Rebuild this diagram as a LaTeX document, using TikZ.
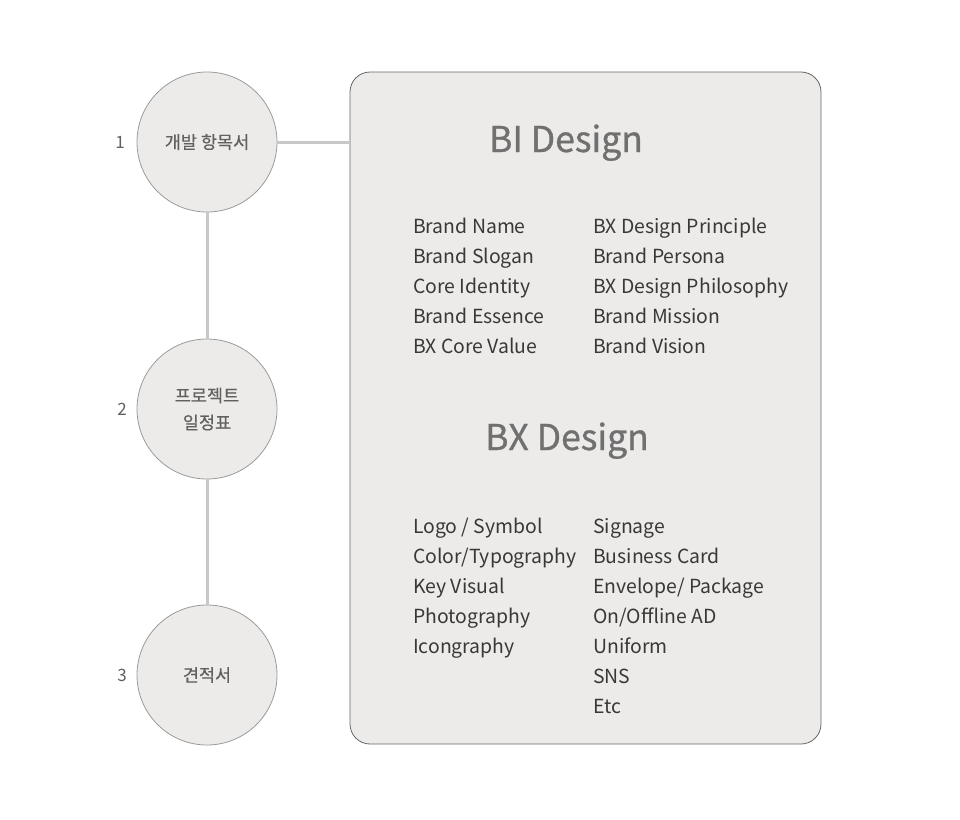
\documentclass[tikz,border=0pt]{standalone}
\usepackage{fontspec}
\setmainfont{Noto Sans CJK KR}
\newfontfamily\medfont[FakeBold=0.8]{Noto Sans CJK KR}
\newfontfamily\semifont[FakeBold=0.4]{Noto Sans CJK KR}
\definecolor{fillgray}{HTML}{ECEBE9}
\definecolor{circborder}{HTML}{9A9A9A}
\definecolor{boxborder}{HTML}{666666}
\definecolor{linegray}{HTML}{C8C8C8}
\definecolor{bodytext}{HTML}{383838}
\definecolor{titletext}{HTML}{707070}
\definecolor{labeltext}{HTML}{606060}
\tikzset{
  stepcircle/.style={circle, draw=circborder, line width=0.8pt, fill=fillgray, minimum size=140pt, inner sep=0pt, align=center, text=labeltext, font=\semifont\fontsize{17.5pt}{27pt}\selectfont},
  numlabel/.style={text=labeltext, font=\fontsize{17pt}{20pt}\selectfont, inner sep=0pt},
  panel/.style={rectangle, rounded corners=20pt, draw=boxborder, line width=0.8pt, fill=fillgray, minimum width=471pt, minimum height=672pt, inner sep=0pt},
  conn/.style={draw=linegray, line width=3pt},
  title/.style={anchor=base, text=titletext, font=\medfont\fontsize{35.5pt}{42pt}\selectfont, inner sep=0pt},
  item/.style={anchor=base west, text=bodytext, font=\fontsize{19.4pt}{24pt}\selectfont, inner sep=0pt},
}
\begin{document}
\begin{tikzpicture}[x=1pt,y=1pt]
\useasboundingbox (0,0) rectangle (960,-819);
\node[panel] (box) at (585.5,-408) {};
\node[stepcircle] (c1) at (207,-142) {개발 항목서};
\node[stepcircle] (c2) at (207,-409) {프로젝트\\일정표};
\node[stepcircle] (c3) at (207,-675) {견적서};
\node[numlabel] (n1) at (120,-142) {1};
\node[numlabel] (n2) at (122,-409) {2};
\node[numlabel] (n3) at (122,-675) {3};
\draw[conn] (c1.east) -- (c1.east -| box.west);
\draw[conn] (c1.south) -- (c2.north);
\draw[conn] (c2.south) -- (c3.north);
\node[title] (t1) at (566,-152) {BI Design};
\node[item] (a1) at (413,-233) {Brand Name};
\node[item] (a2) at (413,-263) {Brand Slogan};
\node[item] (a3) at (413,-293) {Core Identity};
\node[item] (a4) at (413,-323) {Brand Essence};
\node[item] (a5) at (413,-353) {BX Core Value};
\node[item] (b1) at (593,-233) {BX Design Principle};
\node[item] (b2) at (593,-263) {Brand Persona};
\node[item] (b3) at (593,-293) {BX Design Philosophy};
\node[item] (b4) at (593,-323) {Brand Mission};
\node[item] (b5) at (593,-353) {Brand Vision};
\node[title] (t2) at (567,-450) {BX Design};
\node[item] (c1a) at (413,-533) {Logo / Symbol};
\node[item] (c2a) at (413,-563) {Color/Typography};
\node[item] (c3a) at (413,-593) {Key Visual};
\node[item] (c4a) at (413,-623) {Photography};
\node[item] (c5a) at (413,-653) {Icongraphy};
\node[item] (d1) at (593,-533) {Signage};
\node[item] (d2) at (593,-563) {Business Card};
\node[item] (d3) at (593,-593) {Envelope/ Package};
\node[item] (d4) at (593,-623) {On/Offline AD};
\node[item] (d5) at (593,-653) {Uniform};
\node[item] (d6) at (593,-683) {SNS};
\node[item] (d7) at (593,-713) {Etc};
\end{tikzpicture}
\end{document}
